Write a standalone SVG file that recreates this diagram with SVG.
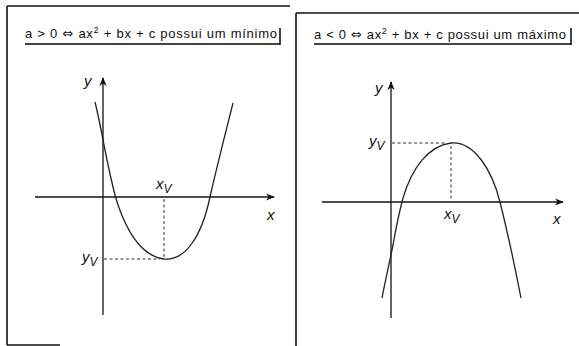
<svg xmlns="http://www.w3.org/2000/svg" width="579" height="346" viewBox="0 0 579 346">
<defs>
<style>
.frame{stroke:#111;stroke-width:1.6;fill:none}
.axis{stroke:#111;stroke-width:1.3;fill:none}
.curve{stroke:#222;stroke-width:1.3;fill:none}
.dash{stroke:#333;stroke-width:1;stroke-dasharray:3,2.5;fill:none}
.title{font-family:"Liberation Sans",Arial,"DejaVu Sans",sans-serif;font-size:13px;fill:#111}
.sym{font-family:"DejaVu Sans",sans-serif;font-size:13px}
.lab{font-family:"Liberation Sans",Arial,sans-serif;font-style:italic;font-size:15px;fill:#111}
.sub{font-size:12px}
.uline{stroke:#444;stroke-width:2.2;fill:none}
</style>
<marker id="arr" viewBox="0 0 10 10" refX="9" refY="5" markerWidth="9" markerHeight="9" markerUnits="userSpaceOnUse" orient="auto">
<path d="M0,1 L10,5 L0,9 L3,5 Z" fill="#111"/>
</marker>
</defs>
<rect width="579" height="346" fill="#fff"/>
<g id="frame">
<line class="frame" x1="7" y1="6" x2="290" y2="6"/>
<line class="frame" x1="7" y1="6" x2="7" y2="345"/>
<line class="frame" x1="7" y1="345" x2="60" y2="345"/>
<line class="frame" x1="296" y1="13" x2="579" y2="13"/>
<line class="frame" x1="296" y1="13" x2="296" y2="346"/>
</g>
<g id="title-left">
<text class="title" x="25" y="38" textLength="252" lengthAdjust="spacing">a &gt; 0 <tspan class="sym">⇔</tspan> ax<tspan dy="-5" font-size="9">2</tspan><tspan dy="5"> + bx + c possui um mínimo</tspan></text>
<line class="uline" x1="25" y1="44" x2="280" y2="44"/>
<line class="frame" x1="280" y1="28" x2="280" y2="45"/>
</g>
<g id="title-right">
<text class="title" x="314" y="39" textLength="252" lengthAdjust="spacing">a &lt; 0 <tspan class="sym">⇔</tspan> ax<tspan dy="-5" font-size="9">2</tspan><tspan dy="5"> + bx + c possui um máximo</tspan></text>
<line class="uline" x1="314" y1="44" x2="571" y2="44"/>
<line class="frame" x1="571" y1="28" x2="571" y2="45"/>
</g>
<g id="graph-left">
<line class="axis" x1="103" y1="315" x2="103" y2="78" marker-end="url(#arr)"/>
<line class="axis" x1="35" y1="197" x2="274" y2="197" marker-end="url(#arr)"/>
<path class="curve" d="M95,102 C99,118 102,135 105,150 C109,170 113,190 118,205 C126,228 140,256 164,259 C186,261 202,235 210,197 C216,170 225,135 233,103"/>
<line class="dash" x1="164" y1="199" x2="164" y2="258"/>
<line class="dash" x1="104" y1="259" x2="160" y2="259"/>
<text class="lab" x="84" y="86">y</text>
<text class="lab" x="267" y="220">x</text>
<text class="lab" x="156" y="189">x<tspan class="sub" dy="4">V</tspan></text>
<text class="lab" x="82" y="262">y<tspan class="sub" dy="4">V</tspan></text>
</g>
<g id="graph-right">
<line class="axis" x1="391" y1="318" x2="391" y2="82" marker-end="url(#arr)"/>
<line class="axis" x1="322" y1="202" x2="563" y2="202" marker-end="url(#arr)"/>
<path class="curve" d="M382,298 C385,282 389,265 393,245 C396,228 399,213 403,198 C412,168 428,146 451,143 C474,141 492,170 500,202 C507,230 514,262 521,298"/>
<line class="dash" x1="451" y1="146" x2="451" y2="200"/>
<line class="dash" x1="392" y1="143" x2="447" y2="143"/>
<text class="lab" x="375" y="93">y</text>
<text class="lab" x="553" y="224">x</text>
<text class="lab" x="444" y="219">x<tspan class="sub" dy="4">V</tspan></text>
<text class="lab" x="369" y="146">y<tspan class="sub" dy="4">V</tspan></text>
</g>
</svg>
